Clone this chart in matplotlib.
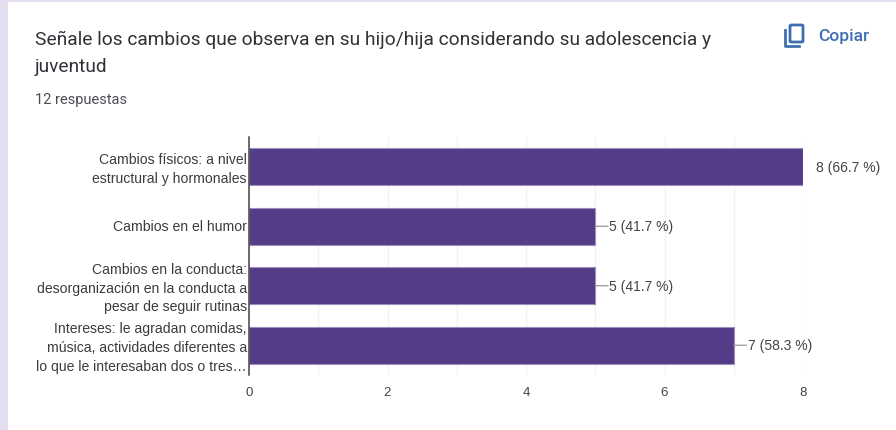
import matplotlib.pyplot as plt
from matplotlib.patches import Rectangle, FancyBboxPatch
from matplotlib.lines import Line2D
from matplotlib.transforms import ScaledTranslation

categories = [
    "Cambios físicos: a nivel\nestructural y hormonales",
    "Cambios en el humor",
    "Cambios en la conducta:\ndesorganización en la conducta a\npesar de seguir rutinas",
    "Intereses: le agradan comidas,\nmúsica, actividades diferentes a\nlo que le interesaban dos o tres…",
]
counts = [8, 5, 5, 7]
value_labels = ["8 (66.7 %)", "5 (41.7 %)", "5 (41.7 %)", "7 (58.3 %)"]
x_ticks = [0, 2, 4, 6, 8]

W, H = 896, 431
fig = plt.figure(figsize=(W / 100, H / 100), dpi=100, facecolor="white")


def fx(px):
    return px / W


def fy(py):
    return 1 - py / H


# page background strips
fig.add_artist(Rectangle((0, 0), fx(8), 1, transform=fig.transFigure, color="#e4dcef", lw=0))
fig.add_artist(Rectangle((0, fy(3)), 1, 3 / H, transform=fig.transFigure, color="#e4dcef", lw=0))

# header
fig.text(fx(35), fy(40), "Señale los cambios que observa en su hijo/hija considerando su adolescencia y",
         family="Roboto", fontsize=13.8, color="#2f3338", va="center")
fig.text(fx(35), fy(67), "juventud", family="Roboto", fontsize=13.8, color="#2f3338", va="center")
fig.text(fx(35), fy(100), "12 respuestas", family="Roboto", fontsize=10.55, color="#4a4e53", va="center")
fig.text(fx(818), fy(36), "Copiar", family="Roboto", fontsize=12.6, color="#3f6fb0",
         fontweight="medium", va="center")

# copy icon
blue = "#3f6fb0"
fig.add_artist(FancyBboxPatch((fx(790), fy(43)), 13 / W, 17 / H, transform=fig.transFigure,
                              boxstyle="round,pad=0,rounding_size=0.002", fc="none", ec=blue, lw=2))
fig.add_artist(Line2D([fx(785), fx(785), fx(799)], [fy(31), fy(47), fy(47)],
                      transform=fig.transFigure, color=blue, lw=2))

# chart
ax = fig.add_axes([fx(249), fy(376), (803 - 249) / W, (376 - 138) / H])
positions = list(range(len(categories)))
ax.barh(positions, counts, height=0.62, color="#553c88", edgecolor="#9d8fbd", linewidth=0.8, zorder=3)

ax.set_xlim(0, 8)
ax.set_ylim(len(categories) - 0.5, -0.5)
ax.set_xticks(x_ticks)
ax.set_xticks(range(9), minor=True)
ax.grid(axis="x", which="both", color="#f3f3f3", lw=1, zorder=0)
ax.set_axisbelow(True)
ax.tick_params(axis="both", which="both", length=0)
ax.tick_params(axis="x", pad=8, labelsize=9.6, labelcolor="#444444")
for lab in ax.get_xticklabels():
    lab.set_family("Liberation Sans")

ax.set_yticks(positions)
ax.set_yticklabels(categories, family="Liberation Sans", fontsize=10.05, color="#3c3c3c",
                   linespacing=1.42)
ax.tick_params(axis="y", pad=1.5)
# labels sit a little above the bar centre
up = ScaledTranslation(0, 2 / 100, fig.dpi_scale_trans)
for lab in ax.get_yticklabels():
    lab.set_transform(lab.get_transform() + up)

for side in ["top", "right", "bottom"]:
    ax.spines[side].set_visible(False)
ax.spines["left"].set_color("#444444")
ax.spines["left"].set_linewidth(1.1)
ax.spines["left"].set_zorder(5)

# value labels with leader lines
for y, c, label in zip(positions, counts, value_labels):
    if c < max(counts):
        ax.annotate("", xy=(c, y), xytext=(13, 0), textcoords="offset pixels",
                    arrowprops=dict(arrowstyle="-", color="#999999", lw=0.9, shrinkA=0, shrinkB=0),
                    annotation_clip=False)
    ax.annotate(label, xy=(c, y), xytext=(13 if c == max(counts) else 14, 0), textcoords="offset pixels",
                va="center", family="Liberation Sans", fontsize=10, color="#444444",
                annotation_clip=False)

fig.savefig("out.png", dpi=100)
